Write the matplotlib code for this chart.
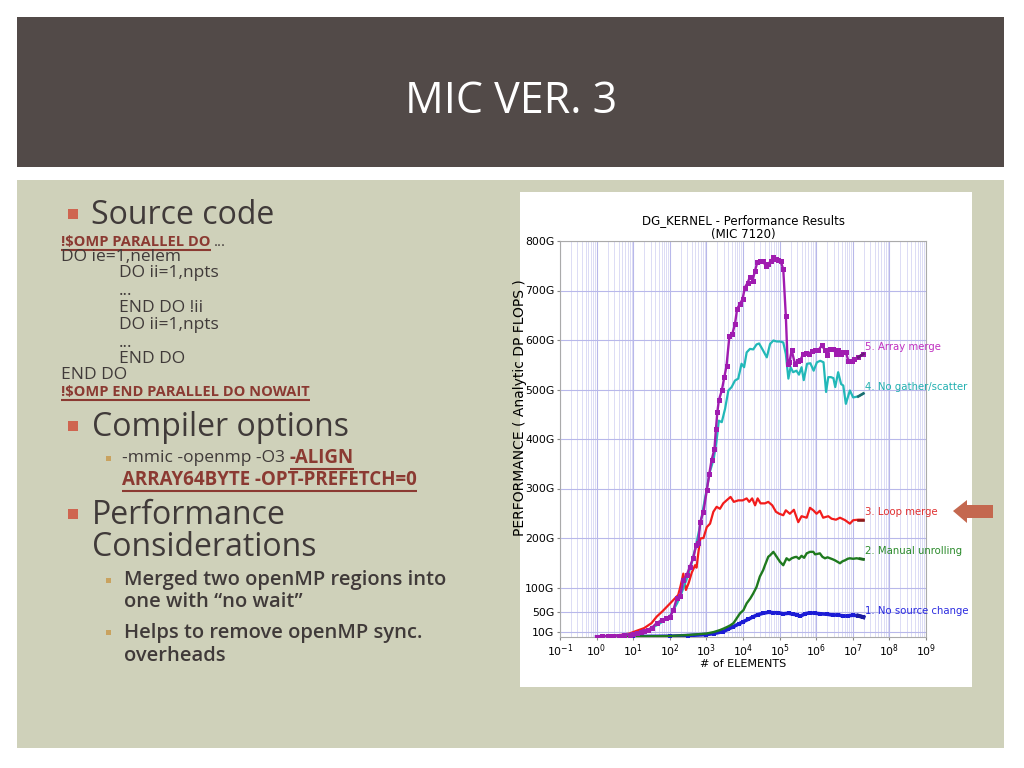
import numpy as np
import matplotlib
matplotlib.use('Agg')
import matplotlib.pyplot as plt
from matplotlib.patches import Rectangle, Polygon
from matplotlib.ticker import FixedLocator, LogLocator, NullFormatter

# ---- chart data: x = log10(# of elements), y = GFLOPS ----
no_src_exp = [0.0, 1.0, 2.0, 2.5, 3.0, 3.2, 3.46, 3.6, 3.74, 3.9, 4.01, 4.15, 4.28, 4.4,
              4.55, 4.7, 4.83, 4.95, 5.1, 5.25, 5.37, 5.47, 5.56, 5.7, 5.83, 5.97, 6.1,
              6.3, 6.47, 6.6, 6.74, 6.88, 7.01, 7.15, 7.29]
no_src_gf = [0.5, 1, 1.5, 3, 5, 7, 11, 16, 21, 27, 31, 36, 41, 45,
             48, 50, 49, 49, 47, 48, 46, 45, 42, 47, 49, 48, 47,
             46, 44, 45, 42, 43, 44, 43, 40]

unroll_exp = [0.0, 1.0, 2.0, 2.5, 3.0, 3.2, 3.37, 3.5, 3.64, 3.74, 3.92, 4.01, 4.1, 4.2,
              4.28, 4.37, 4.46, 4.55, 4.6, 4.69, 4.74, 4.83, 4.92, 5.01, 5.1, 5.19, 5.26,
              5.33, 5.4, 5.46, 5.53, 5.6, 5.67, 5.74, 5.83, 5.92, 5.97, 6.04, 6.1, 6.17,
              6.24, 6.31, 6.38, 6.45, 6.51, 6.58, 6.65, 6.72, 6.79, 6.86, 6.92, 7.01,
              7.1, 7.2, 7.29]
unroll_gf = [0.5, 1, 2, 4, 7, 10, 14, 18, 23, 28, 48, 54, 68, 78,
             88, 101, 122, 135, 145, 162, 165, 172, 162, 152, 145, 159, 155,
             159, 161, 162, 158, 164, 160, 169, 172, 172, 167, 168, 169, 162,
             159, 161, 159, 157, 155, 152, 149, 153, 155, 158, 159, 158,
             159, 158, 157]

loop_exp = [0.0, 0.3, 0.6, 0.9, 1.0, 1.3, 1.5, 1.64, 1.8, 2.01, 2.1, 2.23, 2.3, 2.37,
            2.44, 2.52, 2.6, 2.69, 2.73, 2.78, 2.83, 2.92, 3.01, 3.1, 3.19, 3.28, 3.37,
            3.46, 3.55, 3.66, 3.75, 3.87, 3.99, 4.1, 4.17, 4.25, 4.33, 4.4, 4.48, 4.6,
            4.69, 4.8, 4.9, 4.99, 5.1, 5.17, 5.28, 5.39, 5.51, 5.6, 5.74, 5.83, 5.92,
            6.01, 6.1, 6.19, 6.33, 6.42, 6.54, 6.65, 6.79, 6.92, 7.01, 7.15, 7.29]
loop_gf = [1, 2, 3.5, 7, 10, 18, 28, 41, 52, 68, 75, 85, 105, 128,
           95, 110, 130, 145, 140, 170, 199, 200, 222, 229, 253, 263, 259,
           270, 276, 283, 273, 276, 276, 280, 273, 280, 266, 280, 270, 270,
           273, 266, 253, 249, 246, 256, 249, 257, 232, 244, 241, 261, 256,
           249, 255, 241, 244, 239, 237, 241, 236, 229, 236, 237, 237]

gather_exp = [0.0, 0.3, 0.6, 0.9, 1.1, 1.3, 1.5, 1.7, 1.9, 2.0, 2.1, 2.2, 2.3, 2.4,
              2.5, 2.6, 2.7, 2.8, 2.9, 3.0, 3.1, 3.2, 3.28, 3.34, 3.42, 3.51, 3.6,
              3.69, 3.78, 3.87, 3.96, 4.03, 4.1, 4.19, 4.28, 4.37, 4.44, 4.54, 4.65,
              4.74, 4.83, 4.92, 5.01, 5.1, 5.17, 5.24, 5.3, 5.37, 5.46, 5.53, 5.6,
              5.66, 5.75, 5.84, 5.93, 6.02, 6.11, 6.2, 6.27, 6.33, 6.4, 6.47, 6.52,
              6.6, 6.68, 6.74, 6.81, 6.92, 7.01, 7.15, 7.29]
gather_gf = [1, 2, 3, 6, 8, 12, 18, 26, 36, 42, 55, 68, 85, 105,
             125, 150, 180, 215, 255, 295, 335, 360, 398, 437, 434, 461, 498,
             505, 518, 522, 552, 545, 575, 582, 581, 591, 593, 580, 565,
             592, 599, 597, 597, 595, 572, 522, 545, 535, 538, 530, 545,
             519, 552, 553, 538, 555, 558, 555, 495, 525, 525, 523, 505,
             535, 511, 508, 471, 498, 484, 486, 492]

array_exp = [0.0, 0.15, 0.3, 0.45, 0.6, 0.75, 0.9, 1.0, 1.1, 1.2, 1.3, 1.4, 1.5, 1.64,
             1.8, 1.9, 2.01, 2.1, 2.19, 2.28, 2.37, 2.46, 2.55, 2.64, 2.72, 2.78, 2.83,
             2.92, 3.01, 3.08, 3.14, 3.22, 3.26, 3.3, 3.34, 3.42, 3.49, 3.55, 3.63,
             3.71, 3.78, 3.84, 3.92, 3.99, 4.05, 4.13, 4.19, 4.26, 4.33, 4.39, 4.46,
             4.54, 4.62, 4.69, 4.76, 4.83, 4.9, 4.96, 5.03, 5.1, 5.17, 5.22, 5.27,
             5.33, 5.42, 5.5, 5.57, 5.65, 5.72, 5.79, 5.88, 5.97, 6.06, 6.15, 6.24,
             6.3, 6.38, 6.47, 6.54, 6.6, 6.67, 6.74, 6.81, 6.88, 6.97, 7.04, 7.15, 7.29]
array_gf = [1, 1.5, 2, 2.5, 3, 4, 5, 7, 8, 10, 13, 15, 18, 28,
            35, 38, 41, 55, 78, 82, 115, 125, 142, 160, 185, 190, 232,
            253, 296, 330, 357, 380, 420, 455, 478, 498, 525, 548, 609,
            613, 632, 663, 673, 683, 706, 716, 728, 720, 740, 757, 759,
            760, 750, 753, 760, 767, 763, 761, 759, 743, 649, 552, 556,
            579, 552, 558, 560, 572, 573, 572, 577, 580, 579, 589, 580,
            569, 582, 582, 572, 580, 572, 575, 575, 558, 558, 562, 565, 572]

series_labels = ['1. No source change', '2. Manual unrolling', '3. Loop merge',
                 '4. No gather/scatter', '5. Array merge']
label_values = [52, 173, 252, 506, 585]

y_ticks = [10, 50, 100, 200, 300, 400, 500, 600, 700, 800]
y_tick_labels = ['10G', '50G', '100G', '200G', '300G', '400G', '500G', '600G', '700G', '800G']
x_tick_exps = list(range(-1, 10))

# ---- slide ----
SLIDE_BG = '#cfd1ba'
TITLE_BG = '#524a48'
DARK = '#403a39'
RED_CODE = '#8b3a32'
BULLET = '#cf6550'
SUB_BULLET = '#c9a25f'
FONT = ['Open Sans', 'DejaVu Sans']

fig = plt.figure(figsize=(10.24, 7.68), dpi=100, facecolor='white')
bg = fig.add_axes([0, 0, 1, 1])
bg.set_xlim(0, 1024)
bg.set_ylim(768, 0)
bg.axis('off')

bg.add_patch(Rectangle((17, 17), 987, 150, color=TITLE_BG, lw=0))
bg.add_patch(Rectangle((17, 180), 987, 568, color=SLIDE_BG, lw=0))
bg.add_patch(Rectangle((520, 192), 452, 495, color='white', lw=0))

bg.text(511, 102, 'MIC VER. 3', color='white', fontsize=31, ha='center', va='center',
        family=FONT)

renderer = fig.canvas.get_renderer()


def text_end(t):
    """テキストの左右端と下端 (bg 座標)"""
    bb = t.get_window_extent(renderer)
    x1, y1 = bg.transData.inverted().transform((bb.x1, bb.y0))
    x0, _ = bg.transData.inverted().transform((bb.x0, bb.y0))
    return x0, x1, y1


def underline(t, color, off=1.0, lw=1.5):
    x0, x1, y = text_end(t)
    bg.plot([x0, x1], [y + off, y + off], color=color, lw=lw, solid_capstyle='butt')


def bullet(x, y, size, color):
    bg.add_patch(Rectangle((x - size / 2, y - size / 2), size, size, color=color, lw=0))


# Source code
bullet(73, 214, 10, BULLET)
bg.text(91, 215, 'Source code', color=DARK, fontsize=23, va='center', family=FONT)

t = bg.text(61, 242, '!$OMP PARALLEL DO', color=RED_CODE, fontsize=10.5, weight='bold',
            va='center', family=FONT)
underline(t, RED_CODE, off=0.5)
bg.text(text_end(t)[1] + 3, 242, '...', color=DARK, fontsize=11, va='center', family=FONT)

code_lines = [(61, 257, 'DO ie=1,nelem'), (119, 273, 'DO ii=1,npts'), (119, 291, '...'),
              (119, 308, 'END DO !ii'), (119, 325, 'DO ii=1,npts'), (119, 343, '...'),
              (119, 359, 'END DO'), (61, 375, 'END DO')]
for x, y, s in code_lines:
    bg.text(x, y, s, color=DARK, fontsize=12.5, va='center', family=FONT)

t = bg.text(61, 392, '!$OMP END PARALLEL DO NOWAIT', color=RED_CODE, fontsize=10.5,
            weight='bold', va='center', family=FONT)
underline(t, RED_CODE, off=0.5)

# Compiler options
bullet(73, 426, 10, BULLET)
bg.text(92, 427, 'Compiler options', color=DARK, fontsize=23, va='center', family=FONT)
bullet(108, 458, 5, SUB_BULLET)
t = bg.text(122, 458, '-mmic -openmp -O3 ', color=DARK, fontsize=12.5, va='center',
            family=FONT)
t2 = bg.text(text_end(t)[1], 458, '-ALIGN', color=RED_CODE, fontsize=13.5, weight='bold',
             va='center', family=FONT)
underline(t2, RED_CODE)
t = bg.text(122, 480, 'ARRAY64BYTE -OPT-PREFETCH=0', color=RED_CODE, fontsize=13.5,
            weight='bold', va='center', family=FONT)
underline(t, RED_CODE)

# Performance considerations
bullet(73, 514, 10, BULLET)
bg.text(92, 515, 'Performance', color=DARK, fontsize=23, va='center', family=FONT)
bg.text(92, 548, 'Considerations', color=DARK, fontsize=23, va='center', family=FONT)
bullet(108, 580, 5, SUB_BULLET)
bg.text(124, 580, 'Merged two openMP regions into', color=DARK, fontsize=14.5,
        weight='semibold', va='center', family=FONT)
bg.text(124, 602, 'one with \u201cno wait\u201d', color=DARK, fontsize=14.5,
        weight='semibold', va='center', family=FONT)
bullet(108, 632, 5, SUB_BULLET)
bg.text(124, 633, 'Helps to remove openMP sync.', color=DARK, fontsize=14.5,
        weight='semibold', va='center', family=FONT)
bg.text(124, 656, 'overheads', color=DARK, fontsize=14.5,
        weight='semibold', va='center', family=FONT)

# arrow next to "3. Loop merge"
bg.add_patch(Polygon([(953, 511), (967, 500), (967, 505), (993, 505), (993, 518),
                      (967, 518), (967, 523)], closed=True, color='#c4684f', lw=0))

# ---- chart ----
ax = fig.add_axes([560 / 1024, (768 - 637) / 768, 366 / 1024, 396 / 768])
ax.set_facecolor('white')
ax.set_xscale('log')
ax.set_xlim(10 ** -1, 10 ** 9)
ax.set_ylim(0, 800)

series = [
    (no_src_exp, no_src_gf, '#1c1cd6', '#1c1ca0', 2.6, 's', 2.8),
    (unroll_exp, unroll_gf, '#1f7a1f', '#1f6a1f', 1.7, None, 0),
    (loop_exp, loop_gf, '#f21c1c', '#8b1c1c', 1.6, None, 0),
    (gather_exp, gather_gf, '#22b8b8', '#1d7070', 1.6, None, 0),
    (array_exp, array_gf, '#a01cb0', '#6a1a7a', 1.7, 's', 3.6),
]
label_colors = ['#2a2ae0', '#2a8a2a', '#e03030', '#22b0b0', '#c030c0']

for (xe, yv, col, dark, lw, mk, ms), lab, ly, lc in zip(series, series_labels,
                                                         label_values, label_colors):
    xv = np.power(10.0, xe)
    ax.plot(xv, yv, color=col, lw=lw, marker=mk, ms=ms, mew=0, zorder=3)
    ax.plot(xv[-2:], yv[-2:], color=dark, lw=lw + 0.3, zorder=3)
    ax.text(10 ** 7.33, ly, lab, color=lc, fontsize=7.3, ha='left', va='center',
            clip_on=False)

ax.yaxis.set_major_locator(FixedLocator(y_ticks))
ax.set_yticklabels(y_tick_labels)
ax.xaxis.set_major_locator(FixedLocator([10.0 ** e for e in x_tick_exps]))
ax.set_xticklabels(['$10^{%d}$' % e for e in x_tick_exps])
ax.xaxis.set_minor_locator(LogLocator(base=10, subs=np.arange(2, 10), numticks=20))
ax.xaxis.set_minor_formatter(NullFormatter())

ax.grid(which='major', color='#b8b8ea', lw=0.8)
ax.grid(which='minor', axis='x', color='#dcdcf5', lw=0.7)
ax.set_axisbelow(True)
ax.tick_params(labelsize=7.8, length=2, color='#888888', pad=2)
ax.tick_params(which='minor', length=0)
for sp in ax.spines.values():
    sp.set_color('#aaaaaa')
    sp.set_linewidth(0.8)

ax.set_title('DG_KERNEL - Performance Results\n(MIC 7120)', fontsize=8.5, pad=2,
             linespacing=1.05)
ax.set_xlabel('# of ELEMENTS', fontsize=8, labelpad=0)
ax.set_ylabel('PERFORMANCE ( Analytic DP FLOPS )', fontsize=10)
ax.yaxis.set_label_coords(-0.09, 0.58)

fig.savefig('out.png', dpi=100, facecolor='white')
